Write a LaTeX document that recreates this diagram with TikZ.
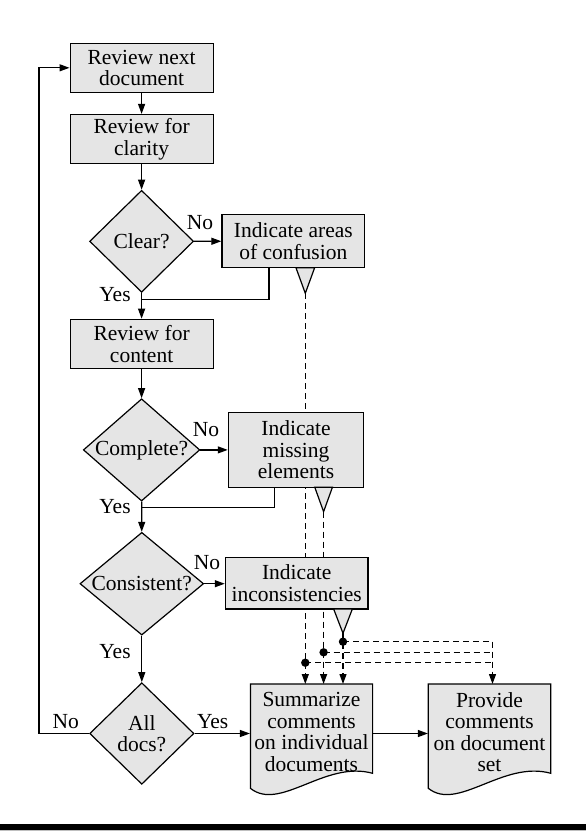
\documentclass[tikz,border=0pt]{standalone}
\usepackage{fontspec}
\setmainfont{Liberation Serif}
\usetikzlibrary{shapes.geometric,arrows.meta,calc}
\definecolor{boxgray}{gray}{0.9}

\begin{document}
\begin{tikzpicture}[x=1pt,y=-1pt,line width=1.2pt,
    every node/.style={font=\fontsize{21.5}{21.5}\selectfont},
    stepbox/.style={draw,fill=boxgray,rectangle,inner sep=0pt,align=center,minimum width=143pt,minimum height=49pt},
    decision/.style={draw,fill=boxgray,diamond,shape aspect=1.2,inner sep=0pt,align=center},
    docbox/.style={inner sep=0pt,align=center,minimum width=122pt,minimum height=96pt},
    arr/.style={-{Triangle[length=10pt,width=7pt]}},
    dashline/.style={dash pattern=on 6pt off 4pt},
    tri/.style={fill=boxgray,draw,line join=miter}]
    \useasboundingbox (0,0) rectangle (586,839);

    % Helper points
    \coordinate (j1) at (141.6,299.5);
    \coordinate (j2) at (141.6,507.5);
    \coordinate (loop) at (38.9,733.5);
    \coordinate (t1) at (305.3,293.3);
    \coordinate (t2) at (323.6,511.7);
    \coordinate (t3) at (343,633.3);
    \coordinate (d1) at (305.3,662.7);
    \coordinate (d2) at (323.6,652.3);
    \coordinate (d3) at (343,641.7);
    \coordinate (pc) at (492.5,641.7);
    \coordinate (top) at (0,684);

    % Dashed feeds (behind the boxes)
    \draw[dashline,arr] (t1) -- (t1 |- top);
    \draw[dashline,arr] (t2) -- (t2 |- top);
    \draw[dashline,arr] (t3) -- (t3 |- top);
    \draw[dashline] (d1) -- (d1 -| pc);
    \draw[dashline] (d2) -- (d2 -| pc);
    \draw[dashline] (d3) -- (d3 -| pc);
    \draw[dashline,arr] (pc) -- (pc |- top);
    \fill (d1) circle (4.2);
    \fill (d2) circle (4.2);
    \fill (d3) circle (4.2);

    % Document outlines
    \filldraw[fill=boxgray] (250.4,684) -- (372.6,684) -- (372.6,773.3) .. controls (325,760) and (280,812) .. (250.4,788.3) -- cycle;
    \filldraw[fill=boxgray] (428.3,684) -- (550.8,684) -- (550.8,773.3) .. controls (503,760) and (458,812) .. (428.3,788.3) -- cycle;

    % Main column
    \node[stepbox] (next) at (141.6,67.8) {Review next\\document};
    \node[stepbox] (clarity) at (141.6,139) {Review for\\clarity};
    \node[decision,minimum width=104pt,minimum height=102pt] (clear) at (141.6,241.3) {Clear?};
    \node[stepbox] (content) at (141.6,343.8) {Review for\\content};
    \node[decision,minimum width=115.5pt,minimum height=102.3pt] (complete) at (141.6,449.9) {Complete?};
    \node[decision,minimum width=123.7pt,minimum height=102.7pt] (consist) at (141.8,583.7) {Consistent?};
    \node[decision,minimum width=104.3pt,minimum height=101.6pt] (alldocs) at (141.8,733.5) {All\\docs?};

    % Side boxes
    \node[stepbox,minimum width=142.7pt,minimum height=53pt] (conf) at (293.3,241.2) {Indicate areas\\of confusion};
    \node[stepbox,minimum width=135.3pt,minimum height=75pt] (missing) at (296,449.8) {Indicate\\missing\\elements};
    \node[stepbox,minimum width=142.7pt,minimum height=51.7pt] (incons) at (296.7,583.2) {Indicate\\inconsistencies};
    \node[docbox] (summ) at (311.5,732) {Summarize\\comments\\on individual\\documents};
    \node[docbox] (prov) at (489.5,732) {Provide\\comments\\on document\\set};

    % Triangles
    \filldraw[tri] (t1) -- ++(-9.35,-25.6) -- ++(18.7,0) -- cycle;
    \filldraw[tri] (t2) -- ++(-8.8,-24.4) -- ++(17.6,0) -- cycle;
    \filldraw[tri] (t3) -- ++(-9.35,-24.3) -- ++(18.7,0) -- cycle;

    % Flow
    \draw[arr] (next) -- (clarity);
    \draw[arr] (clarity) -- (clear);
    \draw[arr] (clear) -- (conf);
    \draw[arr] (clear) -- (content);
    \draw ($(conf.south)+(-24.3,0)$) |- (j1);
    \draw[arr] (content) -- (complete);
    \draw[arr] (complete.east) -- (complete.east -| missing.west);
    \draw[arr] (complete) -- (consist);
    \draw ($(missing.south)+(-21.3,0)$) |- (j2);
    \draw[arr] (consist.east) -- (consist.east -| incons.west);
    \draw[arr] (consist) -- (alldocs);
    \draw[arr] (alldocs.east) -- (alldocs.east -| summ.west);
    \draw[arr] (summ.east |- alldocs) -- (prov.west |- alldocs);
    \draw[arr] (alldocs.west) -- (loop) |- (next.west);

    % Labels
    \node (no1) at (200,222.7) {No};
    \node (yes1) at (115,295) {Yes};
    \node (no2) at (206,430) {No};
    \node (yes2) at (115,506.7) {Yes};
    \node (no3) at (207,563) {No};
    \node (yes3) at (115,652) {Yes};
    \node (no4) at (65.8,722) {No};
    \node (yes4) at (212.7,722) {Yes};

    % Bottom rule
    \fill (0,824.3) rectangle (586,829.8);
    \fill[black!25] (0,830) rectangle (586,831);
\end{tikzpicture}
\end{document}
